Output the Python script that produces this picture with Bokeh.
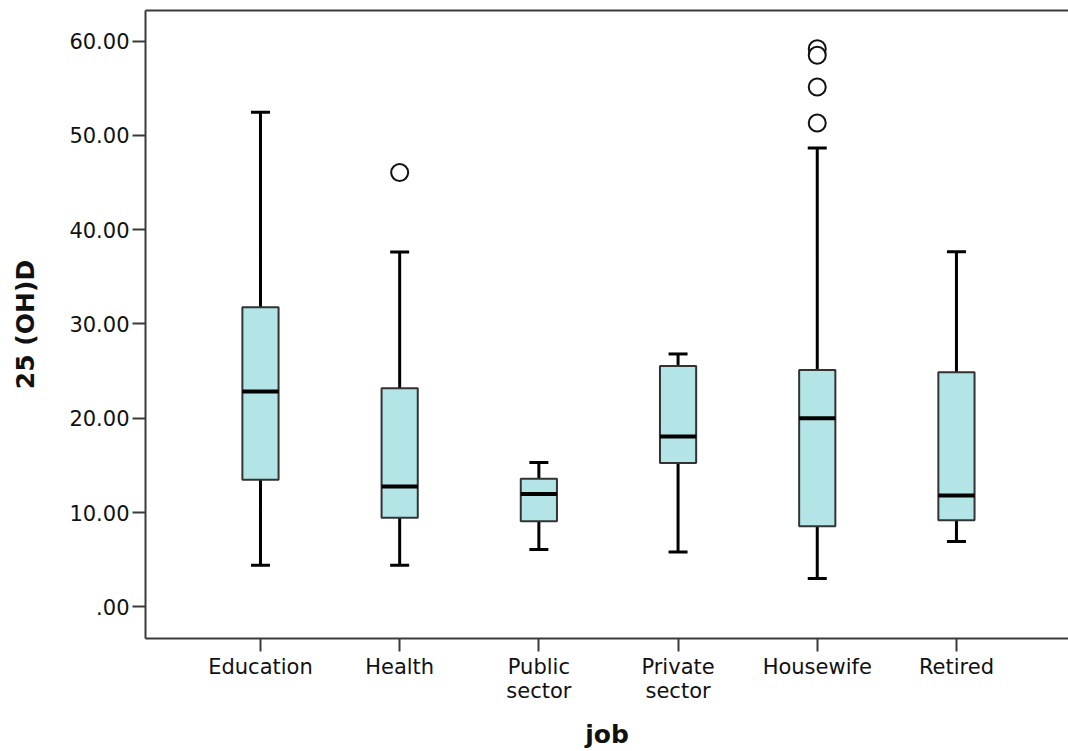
from bokeh.plotting import figure
from bokeh.models import (ColumnDataSource, FixedTicker, LinearAxis, Range1d,
                          Whisker, TeeHead)
from bokeh.embed import file_html
from bokeh.resources import INLINE

# 25(OH)D by job group: box-plot summaries
jobs = ["Education", "Health", "Public\nsector", "Private\nsector", "Housewife", "Retired"]
lower = [4.4, 4.4, 6.07, 5.82, 3.0, 6.92]
q1 = [13.48, 9.46, 9.07, 15.25, 8.54, 9.17]
median = [22.83, 12.77, 11.97, 18.07, 20.01, 11.82]
q3 = [31.77, 23.19, 13.59, 25.55, 25.13, 24.89]
upper = [52.45, 37.63, 15.31, 26.82, 48.67, 37.66]

# outlying cases (job group, value)
outlier_job = ["Health", "Housewife", "Housewife", "Housewife", "Housewife"]
outlier_val = [46.07, 59.2, 58.5, 55.13, 51.32]

y_ticks = [0, 10, 20, 30, 40, 50, 60]

pos = list(range(1, len(jobs) + 1))
box_w = 0.26
src = ColumnDataSource(dict(
    x=pos, lower=lower, q1=q1, median=median, q3=q3, upper=upper,
    x0=[p - box_w / 2 for p in pos], x1=[p + box_w / 2 for p in pos],
))
plain = [j.replace("\n", " ") for j in jobs]
out_src = ColumnDataSource(dict(
    x=[pos[[k.split(" ")[0] for k in plain].index(j)] for j in outlier_job],
    y=outlier_val,
))

FONT = "DejaVu Sans"
AX = "#3a3a3a"

p = figure(width=1068, height=751, output_backend="svg", toolbar_location=None,
           x_range=Range1d(0.174, 6.805), y_range=Range1d(-3.36, 63.25),
           min_border_left=145, min_border_right=0, min_border_top=10,
           min_border_bottom=112)
p.outline_line_color = None
p.grid.visible = False
p.background_fill_color = "white"
p.border_fill_color = "white"

# whiskers with tee caps
cap = dict(size=19, line_width=3, line_color="black")
p.add_layout(Whisker(source=src, base="x", lower="q3", upper="upper",
                     line_width=3, line_color="black",
                     upper_head=TeeHead(**cap), lower_head=None))
p.add_layout(Whisker(source=src, base="x", lower="lower", upper="q1",
                     line_width=3, line_color="black",
                     lower_head=TeeHead(**cap), upper_head=None))

# interquartile boxes and medians
p.vbar(x="x", width=box_w, bottom="q1", top="q3", source=src,
       fill_color="#b3e5e6", line_color="#333333", line_width=2)
p.segment(x0="x0", x1="x1", y0="median", y1="median", source=src,
          line_color="black", line_width=4)

# outliers
p.scatter(x="x", y="y", source=out_src, marker="circle", size=17,
          fill_color="white", line_color="#111111", line_width=2)

# axes
xa = p.xaxis[0]
xa.ticker = FixedTicker(ticks=pos)
xa.major_label_overrides = {k: v for k, v in zip(pos, jobs)}
xa.axis_label = "job"
ya = p.yaxis[0]
ya.ticker = FixedTicker(ticks=y_ticks)
ya.major_label_overrides = {t: (f"{t:.2f}" if t else ".00") for t in y_ticks}
ya.axis_label = "25 (OH)D"

for ax in (xa, ya):
    ax.axis_line_color = AX
    ax.axis_line_width = 2
    ax.major_tick_line_color = AX
    ax.major_tick_line_width = 2
    ax.major_tick_in = 0
    ax.major_tick_out = 13
    ax.minor_tick_line_color = None
    ax.major_label_text_font = FONT
    ax.major_label_text_font_size = "21px"
    ax.major_label_text_color = "#111111"
    ax.major_label_standoff = 3
    ax.axis_label_text_font = FONT
    ax.axis_label_text_font_style = "bold"
    ax.axis_label_text_font_size = "25px"
    ax.axis_label_text_color = "#111111"
xa.major_label_text_line_height = 1.0
xa.axis_label_standoff = 14
ya.axis_label_standoff = 26

# top edge of the frame
top = LinearAxis(ticker=FixedTicker(ticks=[]), axis_line_color=AX, axis_line_width=2,
                 major_tick_line_color=None, minor_tick_line_color=None,
                 major_label_text_font_size="0px", major_label_standoff=0,
                 major_tick_out=0, minor_tick_out=0)
p.add_layout(top, "above")

open("out.html", "w").write(file_html(p, INLINE))
